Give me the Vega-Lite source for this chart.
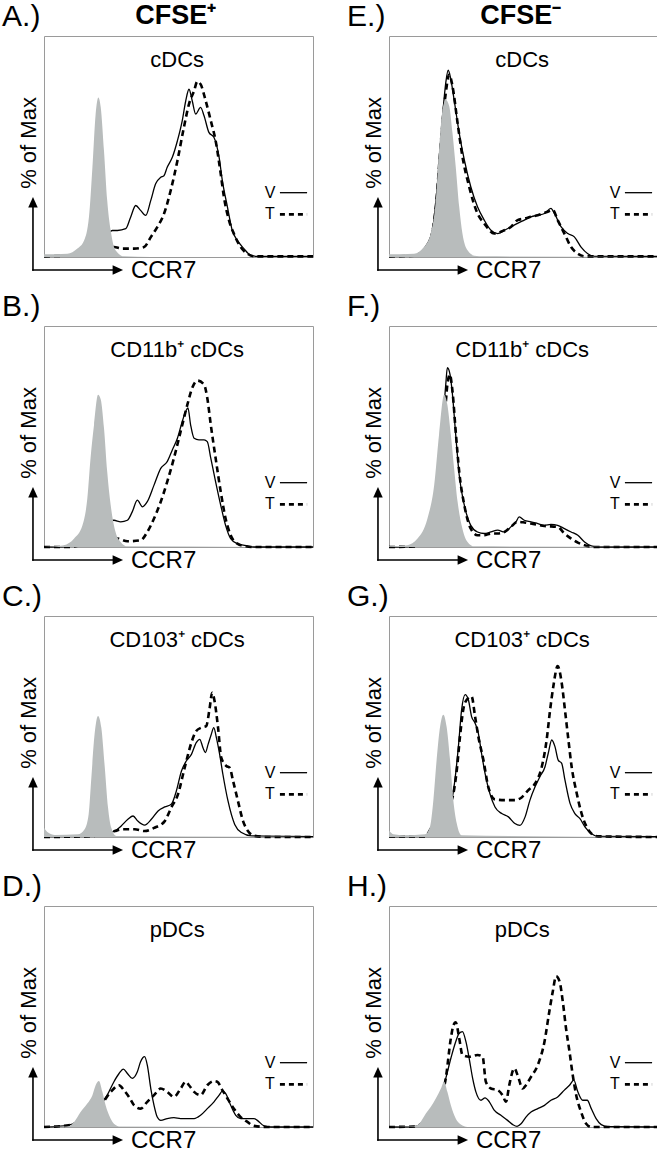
{
  "$schema": "https://vega.github.io/schema/vega-lite/v6.json",
  "background": "white",
  "padding": {"left": 1, "top": 0, "right": 0, "bottom": 0},
  "bounds": "flush",
  "config": {
    "font": "Liberation Sans",
    "view": {"stroke": "#9a9a9a", "strokeWidth": 1},
    "axis": {"disable": true},
    "header": {"labels": false, "title": null, "labelPadding": 0, "titlePadding": 0, "labelFontSize": 1, "labelColor": "transparent"},
    "headerFacet": {"labels": false, "title": null, "labelPadding": 0, "titlePadding": 0, "labelFontSize": 1, "labelColor": "transparent"}
  },
  "data": {"values": [
    {"panel":"A","series":"label","letter":"A.)","title":"cDCs","col":"CFSE⁺"},
    {"panel":"B","series":"label","letter":"B.)","title":"CD11b⁺ cDCs","col":""},
    {"panel":"C","series":"label","letter":"C.)","title":"CD103⁺ cDCs","col":""},
    {"panel":"D","series":"label","letter":"D.)","title":"pDCs","col":""},
    {"panel":"E","series":"label","letter":"E.)","title":"cDCs","col":"CFSE⁻"},
    {"panel":"F","series":"label","letter":"F.)","title":"CD11b⁺ cDCs","col":""},
    {"panel":"G","series":"label","letter":"G.)","title":"CD103⁺ cDCs","col":""},
    {"panel":"H","series":"label","letter":"H.)","title":"pDCs","col":""},

    {"panel":"A","series":"iso","x":0,"y":1.2},{"panel":"A","series":"iso","x":8.7,"y":1.5},{"panel":"A","series":"iso","x":12.4,"y":3.8},{"panel":"A","series":"iso","x":14.9,"y":7.5},{"panel":"A","series":"iso","x":16.7,"y":18},{"panel":"A","series":"iso","x":18,"y":40.6},{"panel":"A","series":"iso","x":19.2,"y":64.7},{"panel":"A","series":"iso","x":20.2,"y":72.2},{"panel":"A","series":"iso","x":21.1,"y":67.7},{"panel":"A","series":"iso","x":22.3,"y":48.1},{"panel":"A","series":"iso","x":23.5,"y":25.6},{"panel":"A","series":"iso","x":24.8,"y":12},{"panel":"A","series":"iso","x":26.6,"y":3},{"panel":"A","series":"iso","x":29.7,"y":0.3},{"panel":"A","series":"iso","x":39.7,"y":0},{"panel":"A","series":"iso","x":100,"y":0},

    {"panel":"A","series":"V","x":0,"y":0.3},{"panel":"A","series":"V","x":14.9,"y":1.5},{"panel":"A","series":"V","x":21.1,"y":6},{"panel":"A","series":"V","x":25.4,"y":12},{"panel":"A","series":"V","x":27.3,"y":12},{"panel":"A","series":"V","x":30.4,"y":12.8},{"panel":"A","series":"V","x":32.2,"y":18},{"panel":"A","series":"V","x":34.1,"y":23.3},{"panel":"A","series":"V","x":35.9,"y":21.1},{"panel":"A","series":"V","x":37.8,"y":18.8},{"panel":"A","series":"V","x":39.7,"y":25.6},{"panel":"A","series":"V","x":41.5,"y":33.1},{"panel":"A","series":"V","x":43.4,"y":36.1},{"panel":"A","series":"V","x":44.6,"y":36.8},{"panel":"A","series":"V","x":45.8,"y":40.6},{"panel":"A","series":"V","x":47.7,"y":45.1},{"panel":"A","series":"V","x":49.6,"y":52.6},{"panel":"A","series":"V","x":51.4,"y":61.7},{"panel":"A","series":"V","x":52.7,"y":70.7},{"panel":"A","series":"V","x":53.9,"y":75.9},{"panel":"A","series":"V","x":55.1,"y":70.7},{"panel":"A","series":"V","x":56.4,"y":64.7},{"panel":"A","series":"V","x":58.2,"y":67.7},{"panel":"A","series":"V","x":59.5,"y":63.9},{"panel":"A","series":"V","x":61.3,"y":56.4},{"panel":"A","series":"V","x":63.2,"y":54.1},{"panel":"A","series":"V","x":65.1,"y":45.1},{"panel":"A","series":"V","x":66.3,"y":34.6},{"panel":"A","series":"V","x":68.2,"y":22.6},{"panel":"A","series":"V","x":70,"y":12},{"panel":"A","series":"V","x":71.9,"y":7.5},{"panel":"A","series":"V","x":74.3,"y":3.8},{"panel":"A","series":"V","x":76.8,"y":0.8},{"panel":"A","series":"V","x":79.3,"y":0.3},{"panel":"A","series":"V","x":100,"y":0.3},

    {"panel":"A","series":"T","x":0,"y":0.3},{"panel":"A","series":"T","x":14.9,"y":1.2},{"panel":"A","series":"T","x":21.1,"y":3},{"panel":"A","series":"T","x":26,"y":4.5},{"panel":"A","series":"T","x":29.1,"y":3.8},{"panel":"A","series":"T","x":33.5,"y":3.8},{"panel":"A","series":"T","x":37.2,"y":4.5},{"panel":"A","series":"T","x":39.7,"y":9},{"panel":"A","series":"T","x":42.1,"y":13.5},{"panel":"A","series":"T","x":44.6,"y":19.5},{"panel":"A","series":"T","x":47.1,"y":30.1},{"panel":"A","series":"T","x":49.6,"y":43.6},{"panel":"A","series":"T","x":52,"y":58.6},{"panel":"A","series":"T","x":53.9,"y":69.2},{"panel":"A","series":"T","x":55.8,"y":75.2},{"panel":"A","series":"T","x":57,"y":79.4},{"panel":"A","series":"T","x":58.2,"y":78.2},{"panel":"A","series":"T","x":60.1,"y":70.7},{"panel":"A","series":"T","x":62,"y":61.7},{"panel":"A","series":"T","x":63.8,"y":52.6},{"panel":"A","series":"T","x":65.7,"y":37.6},{"panel":"A","series":"T","x":66.9,"y":27.1},{"panel":"A","series":"T","x":68.8,"y":16.5},{"panel":"A","series":"T","x":70.6,"y":10.5},{"panel":"A","series":"T","x":73.1,"y":4.5},{"panel":"A","series":"T","x":75.6,"y":1.5},{"panel":"A","series":"T","x":78.1,"y":0.3},{"panel":"A","series":"T","x":100,"y":0.3},

    {"panel":"E","series":"iso","x":0,"y":1.2},{"panel":"E","series":"iso","x":9.3,"y":1.5},{"panel":"E","series":"iso","x":13,"y":4.5},{"panel":"E","series":"iso","x":15.5,"y":10.6},{"panel":"E","series":"iso","x":17.4,"y":25.8},{"panel":"E","series":"iso","x":18.6,"y":48.5},{"panel":"E","series":"iso","x":19.9,"y":66.7},{"panel":"E","series":"iso","x":21.1,"y":71.2},{"panel":"E","series":"iso","x":22.4,"y":68.2},{"panel":"E","series":"iso","x":23.6,"y":56.1},{"panel":"E","series":"iso","x":24.8,"y":40.9},{"panel":"E","series":"iso","x":26.1,"y":22.7},{"panel":"E","series":"iso","x":27.3,"y":10.6},{"panel":"E","series":"iso","x":29.2,"y":3},{"panel":"E","series":"iso","x":31.7,"y":0.6},{"panel":"E","series":"iso","x":35.4,"y":0.3},{"panel":"E","series":"iso","x":100,"y":0},

    {"panel":"E","series":"V","x":0,"y":0.3},{"panel":"E","series":"V","x":9.3,"y":0.8},{"panel":"E","series":"V","x":14.3,"y":6.1},{"panel":"E","series":"V","x":16.1,"y":12},{"panel":"E","series":"V","x":17.6,"y":27},{"panel":"E","series":"V","x":18.8,"y":46},{"panel":"E","series":"V","x":20,"y":65},{"panel":"E","series":"V","x":21.1,"y":78.8},{"panel":"E","series":"V","x":22,"y":84.5},{"panel":"E","series":"V","x":23,"y":80.3},{"panel":"E","series":"V","x":24.2,"y":71.2},{"panel":"E","series":"V","x":26.1,"y":56.1},{"panel":"E","series":"V","x":28,"y":43.9},{"panel":"E","series":"V","x":30.4,"y":31.8},{"panel":"E","series":"V","x":32.9,"y":22.7},{"panel":"E","series":"V","x":35.4,"y":16.7},{"panel":"E","series":"V","x":37.9,"y":12.1},{"panel":"E","series":"V","x":40.4,"y":10.6},{"panel":"E","series":"V","x":42.9,"y":12.1},{"panel":"E","series":"V","x":45.3,"y":13.6},{"panel":"E","series":"V","x":47.8,"y":15.2},{"panel":"E","series":"V","x":50.3,"y":16.7},{"panel":"E","series":"V","x":52.8,"y":18.2},{"panel":"E","series":"V","x":55.3,"y":18.9},{"panel":"E","series":"V","x":57.8,"y":19.7},{"panel":"E","series":"V","x":60.2,"y":22},{"panel":"E","series":"V","x":61.5,"y":19.7},{"panel":"E","series":"V","x":64,"y":13.6},{"panel":"E","series":"V","x":66.5,"y":10.6},{"panel":"E","series":"V","x":68.9,"y":9.1},{"panel":"E","series":"V","x":71.4,"y":4.5},{"panel":"E","series":"V","x":73.9,"y":1.5},{"panel":"E","series":"V","x":76.4,"y":0.3},{"panel":"E","series":"V","x":100,"y":0.3},

    {"panel":"E","series":"T","x":0,"y":0.3},{"panel":"E","series":"T","x":9.3,"y":0.6},{"panel":"E","series":"T","x":14.3,"y":5.3},{"panel":"E","series":"T","x":16.1,"y":11},{"panel":"E","series":"T","x":17.6,"y":25},{"panel":"E","series":"T","x":18.8,"y":44},{"panel":"E","series":"T","x":20,"y":62},{"panel":"E","series":"T","x":21.1,"y":74.2},{"panel":"E","series":"T","x":22.4,"y":82.6},{"panel":"E","series":"T","x":23.6,"y":77.3},{"panel":"E","series":"T","x":25.5,"y":60.6},{"panel":"E","series":"T","x":27.3,"y":45.5},{"panel":"E","series":"T","x":29.8,"y":31.8},{"panel":"E","series":"T","x":32.9,"y":19.7},{"panel":"E","series":"T","x":35.4,"y":15.2},{"panel":"E","series":"T","x":39.1,"y":10.6},{"panel":"E","series":"T","x":42.9,"y":12.1},{"panel":"E","series":"T","x":45.3,"y":13.6},{"panel":"E","series":"T","x":47.8,"y":16.7},{"panel":"E","series":"T","x":50.3,"y":17.4},{"panel":"E","series":"T","x":52.8,"y":18.2},{"panel":"E","series":"T","x":55.3,"y":18.9},{"panel":"E","series":"T","x":59,"y":20.5},{"panel":"E","series":"T","x":60.9,"y":21.2},{"panel":"E","series":"T","x":62.7,"y":16.7},{"panel":"E","series":"T","x":65.2,"y":10.6},{"panel":"E","series":"T","x":67.7,"y":4.5},{"panel":"E","series":"T","x":70.2,"y":1.5},{"panel":"E","series":"T","x":72.7,"y":0.3},{"panel":"E","series":"T","x":100,"y":0.3},

    {"panel":"B","series":"iso","x":0,"y":0},{"panel":"B","series":"iso","x":7.4,"y":0.8},{"panel":"B","series":"iso","x":11.2,"y":3.8},{"panel":"B","series":"iso","x":14.3,"y":9.8},{"panel":"B","series":"iso","x":16.1,"y":22},{"panel":"B","series":"iso","x":17.3,"y":40.2},{"panel":"B","series":"iso","x":18.6,"y":55.3},{"panel":"B","series":"iso","x":20.1,"y":68.9},{"panel":"B","series":"iso","x":21.1,"y":66.7},{"panel":"B","series":"iso","x":22.3,"y":53.8},{"panel":"B","series":"iso","x":23.5,"y":34.1},{"panel":"B","series":"iso","x":24.8,"y":18.9},{"panel":"B","series":"iso","x":26.6,"y":6.8},{"panel":"B","series":"iso","x":28.5,"y":2.3},{"panel":"B","series":"iso","x":31,"y":0.3},{"panel":"B","series":"iso","x":100,"y":0},

    {"panel":"B","series":"V","x":0,"y":0},{"panel":"B","series":"V","x":8.7,"y":0.2},{"panel":"B","series":"V","x":16.1,"y":3.8},{"panel":"B","series":"V","x":21.1,"y":9.1},{"panel":"B","series":"V","x":26,"y":12.1},{"panel":"B","series":"V","x":28.5,"y":11.4},{"panel":"B","series":"V","x":31,"y":12.1},{"panel":"B","series":"V","x":32.8,"y":15.9},{"panel":"B","series":"V","x":34.7,"y":21.2},{"panel":"B","series":"V","x":36.6,"y":18.2},{"panel":"B","series":"V","x":38.4,"y":20.5},{"panel":"B","series":"V","x":40.9,"y":28},{"panel":"B","series":"V","x":43.4,"y":35.6},{"panel":"B","series":"V","x":45.8,"y":38.6},{"panel":"B","series":"V","x":47.7,"y":43.9},{"panel":"B","series":"V","x":49.6,"y":49.2},{"panel":"B","series":"V","x":51.4,"y":56.8},{"panel":"B","series":"V","x":52.7,"y":61.4},{"panel":"B","series":"V","x":53.5,"y":62.9},{"panel":"B","series":"V","x":54.5,"y":55.3},{"panel":"B","series":"V","x":55.8,"y":49.2},{"panel":"B","series":"V","x":57.6,"y":48.5},{"panel":"B","series":"V","x":59.5,"y":48.5},{"panel":"B","series":"V","x":60.7,"y":47.7},{"panel":"B","series":"V","x":62,"y":40.2},{"panel":"B","series":"V","x":63.8,"y":29.5},{"panel":"B","series":"V","x":65.7,"y":18.9},{"panel":"B","series":"V","x":67.5,"y":9.8},{"panel":"B","series":"V","x":69.4,"y":3.8},{"panel":"B","series":"V","x":71.9,"y":1.5},{"panel":"B","series":"V","x":75.6,"y":0.5},{"panel":"B","series":"V","x":78.1,"y":0},{"panel":"B","series":"V","x":100,"y":0},

    {"panel":"B","series":"T","x":0,"y":0},{"panel":"B","series":"T","x":8.7,"y":0},{"panel":"B","series":"T","x":16.1,"y":1.5},{"panel":"B","series":"T","x":23.5,"y":3},{"panel":"B","series":"T","x":27.3,"y":3.8},{"panel":"B","series":"T","x":31,"y":2.6},{"panel":"B","series":"T","x":35.9,"y":3},{"panel":"B","series":"T","x":38.4,"y":6.8},{"panel":"B","series":"T","x":40.9,"y":12.9},{"panel":"B","series":"T","x":43.4,"y":20.5},{"panel":"B","series":"T","x":45.8,"y":29.5},{"panel":"B","series":"T","x":48.3,"y":40.2},{"panel":"B","series":"T","x":50.8,"y":52.3},{"panel":"B","series":"T","x":53.3,"y":64.4},{"panel":"B","series":"T","x":55.1,"y":72},{"panel":"B","series":"T","x":57,"y":75.3},{"panel":"B","series":"T","x":59.5,"y":73.5},{"panel":"B","series":"T","x":60.7,"y":67.4},{"panel":"B","series":"T","x":62,"y":55.3},{"panel":"B","series":"T","x":63.8,"y":40.2},{"panel":"B","series":"T","x":65.7,"y":25},{"panel":"B","series":"T","x":67.5,"y":12.9},{"panel":"B","series":"T","x":69.4,"y":5.3},{"panel":"B","series":"T","x":71.9,"y":1.5},{"panel":"B","series":"T","x":74.3,"y":0.5},{"panel":"B","series":"T","x":78.1,"y":0},{"panel":"B","series":"T","x":100,"y":0},

    {"panel":"F","series":"iso","x":0,"y":0.3},{"panel":"F","series":"iso","x":6.8,"y":0.8},{"panel":"F","series":"iso","x":10.6,"y":3.8},{"panel":"F","series":"iso","x":14.3,"y":12.9},{"panel":"F","series":"iso","x":16.8,"y":28},{"panel":"F","series":"iso","x":18.6,"y":50.8},{"panel":"F","series":"iso","x":20.5,"y":68.9},{"panel":"F","series":"iso","x":21.7,"y":64.4},{"panel":"F","series":"iso","x":23,"y":50.8},{"panel":"F","series":"iso","x":24.2,"y":35.6},{"panel":"F","series":"iso","x":25.5,"y":20.5},{"panel":"F","series":"iso","x":27.3,"y":8.3},{"panel":"F","series":"iso","x":29.2,"y":2.3},{"panel":"F","series":"iso","x":31.7,"y":0.3},{"panel":"F","series":"iso","x":100,"y":0},

    {"panel":"F","series":"V","x":0,"y":0},{"panel":"F","series":"V","x":9.3,"y":0.3},{"panel":"F","series":"V","x":15.5,"y":6.8},{"panel":"F","series":"V","x":18,"y":25},{"panel":"F","series":"V","x":19.9,"y":53.8},{"panel":"F","series":"V","x":21.1,"y":73.5},{"panel":"F","series":"V","x":21.7,"y":81.1},{"panel":"F","series":"V","x":22.7,"y":78},{"panel":"F","series":"V","x":23.6,"y":68.9},{"panel":"F","series":"V","x":24.8,"y":50.8},{"panel":"F","series":"V","x":26.1,"y":32.6},{"panel":"F","series":"V","x":28,"y":18.9},{"panel":"F","series":"V","x":30.4,"y":9.8},{"panel":"F","series":"V","x":32.9,"y":6.8},{"panel":"F","series":"V","x":35.4,"y":6.1},{"panel":"F","series":"V","x":37.9,"y":6.8},{"panel":"F","series":"V","x":40.4,"y":7.6},{"panel":"F","series":"V","x":42.9,"y":6.8},{"panel":"F","series":"V","x":45.3,"y":9.1},{"panel":"F","series":"V","x":47.2,"y":11.4},{"panel":"F","series":"V","x":48.4,"y":13.6},{"panel":"F","series":"V","x":50.3,"y":12.1},{"panel":"F","series":"V","x":52.8,"y":11.4},{"panel":"F","series":"V","x":55.3,"y":10.6},{"panel":"F","series":"V","x":57.8,"y":9.8},{"panel":"F","series":"V","x":60.2,"y":10.2},{"panel":"F","series":"V","x":62.7,"y":9.8},{"panel":"F","series":"V","x":65.2,"y":8.3},{"panel":"F","series":"V","x":67.7,"y":6.8},{"panel":"F","series":"V","x":70.2,"y":5.3},{"panel":"F","series":"V","x":72.7,"y":2.3},{"panel":"F","series":"V","x":75.2,"y":0.5},{"panel":"F","series":"V","x":77.6,"y":0},{"panel":"F","series":"V","x":100,"y":0},

    {"panel":"F","series":"T","x":0,"y":0},{"panel":"F","series":"T","x":9.3,"y":0.2},{"panel":"F","series":"T","x":15.5,"y":6.1},{"panel":"F","series":"T","x":18,"y":23.5},{"panel":"F","series":"T","x":20.5,"y":55.3},{"panel":"F","series":"T","x":21.7,"y":73.5},{"panel":"F","series":"T","x":22.6,"y":78},{"panel":"F","series":"T","x":23.6,"y":70.5},{"panel":"F","series":"T","x":24.8,"y":52.3},{"panel":"F","series":"T","x":26.1,"y":34.1},{"panel":"F","series":"T","x":28,"y":18.9},{"panel":"F","series":"T","x":30.4,"y":8.3},{"panel":"F","series":"T","x":32.9,"y":5.3},{"panel":"F","series":"T","x":35.4,"y":5.3},{"panel":"F","series":"T","x":37.9,"y":6.1},{"panel":"F","series":"T","x":40.4,"y":6.1},{"panel":"F","series":"T","x":42.9,"y":6.8},{"panel":"F","series":"T","x":45.3,"y":9.1},{"panel":"F","series":"T","x":47.8,"y":11.4},{"panel":"F","series":"T","x":50.3,"y":11.1},{"panel":"F","series":"T","x":52.8,"y":10.6},{"panel":"F","series":"T","x":57.8,"y":9.5},{"panel":"F","series":"T","x":62.7,"y":9.1},{"panel":"F","series":"T","x":65.2,"y":6.1},{"panel":"F","series":"T","x":67.7,"y":3.8},{"panel":"F","series":"T","x":70.2,"y":2},{"panel":"F","series":"T","x":72.7,"y":0.8},{"panel":"F","series":"T","x":76.4,"y":0},{"panel":"F","series":"T","x":100,"y":0},

    {"panel":"C","series":"iso","x":0,"y":4.2},{"panel":"C","series":"iso","x":1.5,"y":2},{"panel":"C","series":"iso","x":4,"y":0.9},{"panel":"C","series":"iso","x":12.6,"y":1.2},{"panel":"C","series":"iso","x":15.1,"y":3.5},{"panel":"C","series":"iso","x":16.6,"y":10.3},{"panel":"C","series":"iso","x":17.6,"y":26.8},{"panel":"C","series":"iso","x":18.8,"y":46.5},{"panel":"C","series":"iso","x":20.1,"y":54.8},{"panel":"C","series":"iso","x":21.3,"y":49.5},{"panel":"C","series":"iso","x":22.6,"y":31.4},{"panel":"C","series":"iso","x":23.8,"y":13.3},{"panel":"C","series":"iso","x":25,"y":4.2},{"panel":"C","series":"iso","x":26.9,"y":0.5},{"panel":"C","series":"iso","x":100,"y":0},

    {"panel":"C","series":"V","x":0,"y":0.2},{"panel":"C","series":"V","x":15.1,"y":0.5},{"panel":"C","series":"V","x":21.3,"y":1.2},{"panel":"C","series":"V","x":26.3,"y":2.7},{"panel":"C","series":"V","x":28.7,"y":5},{"panel":"C","series":"V","x":31.2,"y":8},{"panel":"C","series":"V","x":33.1,"y":9.5},{"panel":"C","series":"V","x":34.9,"y":7.2},{"panel":"C","series":"V","x":37.4,"y":5.4},{"panel":"C","series":"V","x":39.9,"y":8},{"panel":"C","series":"V","x":42.4,"y":11.8},{"panel":"C","series":"V","x":44.9,"y":13.6},{"panel":"C","series":"V","x":47.3,"y":14.8},{"panel":"C","series":"V","x":49.2,"y":20.8},{"panel":"C","series":"V","x":51.1,"y":29.9},{"panel":"C","series":"V","x":52.9,"y":34.4},{"panel":"C","series":"V","x":54.8,"y":37.4},{"panel":"C","series":"V","x":56.6,"y":42.7},{"panel":"C","series":"V","x":57.9,"y":44.2},{"panel":"C","series":"V","x":59.1,"y":40.4},{"panel":"C","series":"V","x":60,"y":38.2},{"panel":"C","series":"V","x":61,"y":41.9},{"panel":"C","series":"V","x":62.2,"y":46.5},{"panel":"C","series":"V","x":63.1,"y":49.5},{"panel":"C","series":"V","x":64.1,"y":44.9},{"panel":"C","series":"V","x":65.3,"y":37.4},{"panel":"C","series":"V","x":66.5,"y":28.4},{"panel":"C","series":"V","x":68.4,"y":16.3},{"panel":"C","series":"V","x":70.9,"y":5.7},{"panel":"C","series":"V","x":73.4,"y":2},{"panel":"C","series":"V","x":77.1,"y":0.5},{"panel":"C","series":"V","x":100,"y":0.2},

    {"panel":"C","series":"T","x":0,"y":0},{"panel":"C","series":"T","x":15.1,"y":0.3},{"panel":"C","series":"T","x":21.3,"y":0.9},{"panel":"C","series":"T","x":26.3,"y":2.7},{"panel":"C","series":"T","x":29.4,"y":3.5},{"panel":"C","series":"T","x":33.7,"y":3.5},{"panel":"C","series":"T","x":37.4,"y":2.7},{"panel":"C","series":"T","x":41.1,"y":4.2},{"panel":"C","series":"T","x":44.9,"y":7.2},{"panel":"C","series":"T","x":47.3,"y":13.3},{"panel":"C","series":"T","x":49.8,"y":19.3},{"panel":"C","series":"T","x":52.3,"y":31.4},{"panel":"C","series":"T","x":54.8,"y":42.7},{"panel":"C","series":"T","x":56.6,"y":48},{"panel":"C","series":"T","x":58.5,"y":49.5},{"panel":"C","series":"T","x":60.3,"y":50.2},{"panel":"C","series":"T","x":61.6,"y":58.5},{"panel":"C","series":"T","x":62.5,"y":65.3},{"panel":"C","series":"T","x":63.4,"y":61.5},{"panel":"C","series":"T","x":64.7,"y":49.5},{"panel":"C","series":"T","x":65.9,"y":35.9},{"panel":"C","series":"T","x":67.8,"y":32.1},{"panel":"C","series":"T","x":69,"y":31.4},{"panel":"C","series":"T","x":70.3,"y":25.3},{"panel":"C","series":"T","x":72.1,"y":16.3},{"panel":"C","series":"T","x":74,"y":7.2},{"panel":"C","series":"T","x":75.8,"y":2.7},{"panel":"C","series":"T","x":78.3,"y":0.5},{"panel":"C","series":"T","x":83.3,"y":0},{"panel":"C","series":"T","x":100,"y":0},

    {"panel":"G","series":"iso","x":0,"y":3},{"panel":"G","series":"iso","x":1.6,"y":1.2},{"panel":"G","series":"iso","x":5.9,"y":0.8},{"panel":"G","series":"iso","x":13.4,"y":1.2},{"panel":"G","series":"iso","x":15.2,"y":4.5},{"panel":"G","series":"iso","x":16.5,"y":16.7},{"panel":"G","series":"iso","x":17.7,"y":34.8},{"panel":"G","series":"iso","x":19,"y":50},{"panel":"G","series":"iso","x":20.2,"y":55.3},{"panel":"G","series":"iso","x":21.4,"y":50},{"panel":"G","series":"iso","x":22.7,"y":34.8},{"panel":"G","series":"iso","x":23.9,"y":16.7},{"panel":"G","series":"iso","x":25.2,"y":6.1},{"panel":"G","series":"iso","x":27,"y":0.8},{"panel":"G","series":"iso","x":100,"y":0},

    {"panel":"G","series":"V","x":0,"y":0.2},{"panel":"G","series":"V","x":13.4,"y":0.3},{"panel":"G","series":"V","x":15.9,"y":4.5},{"panel":"G","series":"V","x":19.6,"y":10.6},{"panel":"G","series":"V","x":23.3,"y":16.7},{"panel":"G","series":"V","x":24.5,"y":25.8},{"panel":"G","series":"V","x":25.8,"y":40.9},{"panel":"G","series":"V","x":27,"y":57.6},{"panel":"G","series":"V","x":28.3,"y":64.4},{"panel":"G","series":"V","x":29.5,"y":62.1},{"panel":"G","series":"V","x":30.7,"y":54.5},{"panel":"G","series":"V","x":32,"y":51.5},{"panel":"G","series":"V","x":33.2,"y":47},{"panel":"G","series":"V","x":34.4,"y":37.9},{"panel":"G","series":"V","x":35.7,"y":28.8},{"panel":"G","series":"V","x":37.5,"y":19.7},{"panel":"G","series":"V","x":39.4,"y":13.6},{"panel":"G","series":"V","x":41.9,"y":10.6},{"panel":"G","series":"V","x":44.4,"y":9.1},{"panel":"G","series":"V","x":46.8,"y":6.1},{"panel":"G","series":"V","x":48.7,"y":5.3},{"panel":"G","series":"V","x":50.6,"y":9.1},{"panel":"G","series":"V","x":52.4,"y":16.7},{"panel":"G","series":"V","x":54.3,"y":22.7},{"panel":"G","series":"V","x":56.1,"y":27.3},{"panel":"G","series":"V","x":58,"y":31.8},{"panel":"G","series":"V","x":59.2,"y":37.9},{"panel":"G","series":"V","x":60.5,"y":43.9},{"panel":"G","series":"V","x":61.7,"y":40.9},{"panel":"G","series":"V","x":62.9,"y":34.8},{"panel":"G","series":"V","x":64.2,"y":33.3},{"panel":"G","series":"V","x":65.4,"y":25.8},{"panel":"G","series":"V","x":67.3,"y":15.2},{"panel":"G","series":"V","x":69.1,"y":10.6},{"panel":"G","series":"V","x":71,"y":8.3},{"panel":"G","series":"V","x":72.9,"y":4.5},{"panel":"G","series":"V","x":75.3,"y":1.5},{"panel":"G","series":"V","x":77.8,"y":0.3},{"panel":"G","series":"V","x":100,"y":0.2},

    {"panel":"G","series":"T","x":0,"y":0.2},{"panel":"G","series":"T","x":13.4,"y":0.3},{"panel":"G","series":"T","x":15.9,"y":4.5},{"panel":"G","series":"T","x":19.6,"y":10.6},{"panel":"G","series":"T","x":23.3,"y":16.7},{"panel":"G","series":"T","x":25.2,"y":30.3},{"panel":"G","series":"T","x":26.4,"y":45.5},{"panel":"G","series":"T","x":27.6,"y":57.6},{"panel":"G","series":"T","x":28.9,"y":62.1},{"panel":"G","series":"T","x":30.7,"y":63.6},{"panel":"G","series":"T","x":32,"y":54.5},{"panel":"G","series":"T","x":33.2,"y":45.5},{"panel":"G","series":"T","x":35.1,"y":34.8},{"panel":"G","series":"T","x":36.9,"y":22.7},{"panel":"G","series":"T","x":39.4,"y":17},{"panel":"G","series":"T","x":43.1,"y":16.7},{"panel":"G","series":"T","x":46.8,"y":16.7},{"panel":"G","series":"T","x":49.3,"y":17.9},{"panel":"G","series":"T","x":51.8,"y":21.2},{"panel":"G","series":"T","x":54.3,"y":24.2},{"panel":"G","series":"T","x":56.8,"y":31.8},{"panel":"G","series":"T","x":58.6,"y":43.9},{"panel":"G","series":"T","x":59.9,"y":57.6},{"panel":"G","series":"T","x":61.1,"y":68.2},{"panel":"G","series":"T","x":62.7,"y":77.3},{"panel":"G","series":"T","x":64.2,"y":69.7},{"panel":"G","series":"T","x":65.4,"y":57.6},{"panel":"G","series":"T","x":66.7,"y":43.9},{"panel":"G","series":"T","x":67.9,"y":31.8},{"panel":"G","series":"T","x":69.8,"y":19.7},{"panel":"G","series":"T","x":71.6,"y":10.6},{"panel":"G","series":"T","x":73.5,"y":4.5},{"panel":"G","series":"T","x":75.3,"y":1.5},{"panel":"G","series":"T","x":77.8,"y":0.3},{"panel":"G","series":"T","x":100,"y":0},

    {"panel":"D","series":"iso","x":0,"y":0},{"panel":"D","series":"iso","x":8.7,"y":0.2},{"panel":"D","series":"iso","x":11.2,"y":2.3},{"panel":"D","series":"iso","x":13.6,"y":6.8},{"panel":"D","series":"iso","x":16.1,"y":10.6},{"panel":"D","series":"iso","x":18,"y":14.4},{"panel":"D","series":"iso","x":19.2,"y":18.9},{"panel":"D","series":"iso","x":20.4,"y":20.8},{"panel":"D","series":"iso","x":21.7,"y":15.9},{"panel":"D","series":"iso","x":22.9,"y":9.8},{"panel":"D","series":"iso","x":24.2,"y":5.3},{"panel":"D","series":"iso","x":26,"y":1.5},{"panel":"D","series":"iso","x":28.5,"y":0.2},{"panel":"D","series":"iso","x":100,"y":0},

    {"panel":"D","series":"V","x":0,"y":0},{"panel":"D","series":"V","x":7.4,"y":0.5},{"panel":"D","series":"V","x":11.2,"y":1.5},{"panel":"D","series":"V","x":16.1,"y":5.3},{"panel":"D","series":"V","x":19.8,"y":8.3},{"panel":"D","series":"V","x":23.5,"y":14.4},{"panel":"D","series":"V","x":26,"y":20.5},{"panel":"D","series":"V","x":27.9,"y":24.2},{"panel":"D","series":"V","x":29.5,"y":26.2},{"panel":"D","series":"V","x":31,"y":24.2},{"panel":"D","series":"V","x":32.8,"y":22},{"panel":"D","series":"V","x":34.7,"y":25},{"panel":"D","series":"V","x":35.9,"y":29.5},{"panel":"D","series":"V","x":37.4,"y":31.8},{"panel":"D","series":"V","x":38.4,"y":28},{"panel":"D","series":"V","x":39.7,"y":17.4},{"panel":"D","series":"V","x":40.9,"y":9.8},{"panel":"D","series":"V","x":42.1,"y":4.5},{"panel":"D","series":"V","x":43.4,"y":3},{"panel":"D","series":"V","x":45.8,"y":3.8},{"panel":"D","series":"V","x":48.3,"y":4.2},{"panel":"D","series":"V","x":50.8,"y":3.8},{"panel":"D","series":"V","x":53.3,"y":3.8},{"panel":"D","series":"V","x":55.8,"y":3.8},{"panel":"D","series":"V","x":58.2,"y":5.3},{"panel":"D","series":"V","x":60.7,"y":8.3},{"panel":"D","series":"V","x":63.2,"y":11.4},{"panel":"D","series":"V","x":65.1,"y":14.4},{"panel":"D","series":"V","x":66.3,"y":16.2},{"panel":"D","series":"V","x":67.5,"y":15.2},{"panel":"D","series":"V","x":69.4,"y":9.8},{"panel":"D","series":"V","x":71.3,"y":5.3},{"panel":"D","series":"V","x":73.1,"y":3.8},{"panel":"D","series":"V","x":75.6,"y":3.8},{"panel":"D","series":"V","x":78.1,"y":3.8},{"panel":"D","series":"V","x":79.3,"y":3},{"panel":"D","series":"V","x":81.8,"y":0.5},{"panel":"D","series":"V","x":84.3,"y":0},{"panel":"D","series":"V","x":100,"y":0},

    {"panel":"D","series":"T","x":0,"y":0},{"panel":"D","series":"T","x":7.4,"y":0.5},{"panel":"D","series":"T","x":11.2,"y":1.5},{"panel":"D","series":"T","x":16.1,"y":5.3},{"panel":"D","series":"T","x":21.1,"y":9.8},{"panel":"D","series":"T","x":24.8,"y":15.9},{"panel":"D","series":"T","x":27.9,"y":18.9},{"panel":"D","series":"T","x":29.7,"y":16.7},{"panel":"D","series":"T","x":31.6,"y":13.6},{"panel":"D","series":"T","x":33.5,"y":9.8},{"panel":"D","series":"T","x":35.9,"y":8.3},{"panel":"D","series":"T","x":38.4,"y":11.4},{"panel":"D","series":"T","x":40.9,"y":14.4},{"panel":"D","series":"T","x":43.4,"y":17.4},{"panel":"D","series":"T","x":45.8,"y":15.9},{"panel":"D","series":"T","x":48.3,"y":13.6},{"panel":"D","series":"T","x":50.8,"y":17.4},{"panel":"D","series":"T","x":52.7,"y":20.5},{"panel":"D","series":"T","x":53.9,"y":18.9},{"panel":"D","series":"T","x":55.8,"y":15.9},{"panel":"D","series":"T","x":58.2,"y":14.4},{"panel":"D","series":"T","x":60.7,"y":18.9},{"panel":"D","series":"T","x":63.2,"y":20.8},{"panel":"D","series":"T","x":64.4,"y":20.5},{"panel":"D","series":"T","x":66.3,"y":16.7},{"panel":"D","series":"T","x":68.2,"y":12.9},{"panel":"D","series":"T","x":70.6,"y":8.3},{"panel":"D","series":"T","x":73.1,"y":4.5},{"panel":"D","series":"T","x":75.6,"y":2.3},{"panel":"D","series":"T","x":78.1,"y":0.5},{"panel":"D","series":"T","x":83,"y":0},{"panel":"D","series":"T","x":100,"y":0},

    {"panel":"H","series":"iso","x":0,"y":0},{"panel":"H","series":"iso","x":8.7,"y":0.2},{"panel":"H","series":"iso","x":11.2,"y":1.5},{"panel":"H","series":"iso","x":13.7,"y":6.1},{"panel":"H","series":"iso","x":15.5,"y":9.1},{"panel":"H","series":"iso","x":17.4,"y":12.9},{"panel":"H","series":"iso","x":19.3,"y":17.4},{"panel":"H","series":"iso","x":20.5,"y":20.5},{"panel":"H","series":"iso","x":21.7,"y":15.9},{"panel":"H","series":"iso","x":23,"y":9.8},{"panel":"H","series":"iso","x":24.8,"y":3.8},{"panel":"H","series":"iso","x":26.7,"y":1.1},{"panel":"H","series":"iso","x":29.2,"y":0},{"panel":"H","series":"iso","x":100,"y":0},

    {"panel":"H","series":"V","x":0,"y":0},{"panel":"H","series":"V","x":9.3,"y":0.2},{"panel":"H","series":"V","x":14.3,"y":3.8},{"panel":"H","series":"V","x":18,"y":9.8},{"panel":"H","series":"V","x":21.1,"y":22},{"panel":"H","series":"V","x":23,"y":31.1},{"panel":"H","series":"V","x":24.8,"y":38.6},{"panel":"H","series":"V","x":26.1,"y":42.4},{"panel":"H","series":"V","x":27.3,"y":43.2},{"panel":"H","series":"V","x":28.6,"y":38.6},{"panel":"H","series":"V","x":29.8,"y":31.1},{"panel":"H","series":"V","x":31.1,"y":22},{"panel":"H","series":"V","x":32.3,"y":15.9},{"panel":"H","series":"V","x":34.2,"y":12.1},{"panel":"H","series":"V","x":35.7,"y":13.2},{"panel":"H","series":"V","x":37.3,"y":11.4},{"panel":"H","series":"V","x":39.1,"y":7.6},{"panel":"H","series":"V","x":41.6,"y":5.3},{"panel":"H","series":"V","x":44.1,"y":3},{"panel":"H","series":"V","x":46,"y":1.1},{"panel":"H","series":"V","x":47.6,"y":0.3},{"panel":"H","series":"V","x":49.1,"y":1.5},{"panel":"H","series":"V","x":50.9,"y":4.5},{"panel":"H","series":"V","x":52.8,"y":6.8},{"panel":"H","series":"V","x":55.3,"y":8.3},{"panel":"H","series":"V","x":57.8,"y":9.8},{"panel":"H","series":"V","x":60.2,"y":12.1},{"panel":"H","series":"V","x":62.7,"y":13.6},{"panel":"H","series":"V","x":65.2,"y":16.7},{"panel":"H","series":"V","x":67.1,"y":18.9},{"panel":"H","series":"V","x":68.7,"y":21.2},{"panel":"H","series":"V","x":70.2,"y":15.9},{"panel":"H","series":"V","x":72,"y":12.1},{"panel":"H","series":"V","x":73.7,"y":12.1},{"panel":"H","series":"V","x":75.2,"y":8.3},{"panel":"H","series":"V","x":77,"y":3.8},{"panel":"H","series":"V","x":78.9,"y":1.1},{"panel":"H","series":"V","x":81.4,"y":0.2},{"panel":"H","series":"V","x":100,"y":0},

    {"panel":"H","series":"T","x":0,"y":0},{"panel":"H","series":"T","x":9.3,"y":0.2},{"panel":"H","series":"T","x":14.3,"y":3.8},{"panel":"H","series":"T","x":18,"y":9.8},{"panel":"H","series":"T","x":21.1,"y":22},{"panel":"H","series":"T","x":23,"y":40.2},{"panel":"H","series":"T","x":24,"y":46.2},{"panel":"H","series":"T","x":24.8,"y":47.4},{"panel":"H","series":"T","x":26.1,"y":40.2},{"panel":"H","series":"T","x":27.3,"y":32.6},{"panel":"H","series":"T","x":29.8,"y":31.8},{"panel":"H","series":"T","x":32.9,"y":32.6},{"panel":"H","series":"T","x":34.8,"y":31.8},{"panel":"H","series":"T","x":36,"y":20.5},{"panel":"H","series":"T","x":37.9,"y":17.4},{"panel":"H","series":"T","x":40.4,"y":16.7},{"panel":"H","series":"T","x":42.2,"y":14.4},{"panel":"H","series":"T","x":43.5,"y":11.4},{"panel":"H","series":"T","x":44.7,"y":18.9},{"panel":"H","series":"T","x":46.6,"y":26.5},{"panel":"H","series":"T","x":47.8,"y":23.5},{"panel":"H","series":"T","x":49.7,"y":17.4},{"panel":"H","series":"T","x":50.9,"y":18.9},{"panel":"H","series":"T","x":52.8,"y":22.7},{"panel":"H","series":"T","x":55.3,"y":28},{"panel":"H","series":"T","x":57.8,"y":38.6},{"panel":"H","series":"T","x":59.6,"y":52.3},{"panel":"H","series":"T","x":60.9,"y":61.4},{"panel":"H","series":"T","x":62.1,"y":68.2},{"panel":"H","series":"T","x":63.4,"y":65.9},{"panel":"H","series":"T","x":64.6,"y":56.8},{"panel":"H","series":"T","x":65.8,"y":44.7},{"panel":"H","series":"T","x":67.1,"y":34.1},{"panel":"H","series":"T","x":68.3,"y":23.5},{"panel":"H","series":"T","x":69.6,"y":14.4},{"panel":"H","series":"T","x":71.4,"y":6.8},{"panel":"H","series":"T","x":73.3,"y":1.5},{"panel":"H","series":"T","x":75.2,"y":0},{"panel":"H","series":"T","x":100,"y":0}
  ]},
  "facet": {"field": "panel", "type": "nominal", "sort": ["A","E","B","F","C","G","D","H"], "title": null, "header": {"labels": false, "title": null, "labelPadding": 0, "titlePadding": 0, "labelFontSize": 1, "labelColor": "transparent", "labelExpr": "''"}},
  "columns": 2,
  "spacing": {"row": 69, "column": 76},
  "spec": {
    "width": 269,
    "height": 221,
    "layer": [
      {
        "transform": [{"filter": "datum.series === 'V'"}],
        "mark": {"type": "line", "color": "black", "strokeWidth": 1.3, "interpolate": "monotone"},
        "encoding": {
          "x": {"field": "x", "type": "quantitative", "scale": {"domain": [0, 100], "nice": false}, "axis": null},
          "y": {"field": "y", "type": "quantitative", "scale": {"domain": [0, 100], "nice": false}, "axis": null}
        }
      },
      {
        "transform": [{"filter": "datum.series === 'T'"}],
        "mark": {"type": "line", "color": "black", "strokeWidth": 2.6, "strokeDash": [6, 4], "interpolate": "monotone"},
        "encoding": {
          "x": {"field": "x", "type": "quantitative", "axis": null},
          "y": {"field": "y", "type": "quantitative", "axis": null}
        }
      },
      {
        "transform": [{"filter": "datum.series === 'iso'"}],
        "mark": {"type": "area", "color": "#b8bcbc", "opacity": 1, "interpolate": "monotone"},
        "encoding": {
          "x": {"field": "x", "type": "quantitative", "axis": null},
          "y": {"field": "y", "type": "quantitative", "axis": null}
        }
      },
      {
        "transform": [{"filter": "datum.series === 'label'"}],
        "layer": [
          {
            "mark": {"type": "text", "fontSize": 22, "align": "center", "baseline": "middle", "color": "black"},
            "encoding": {"x": {"datum": 49.5}, "y": {"datum": 89.1}, "text": {"field": "title"}}
          },
          {
            "mark": {"type": "text", "fontSize": 30, "align": "left", "baseline": "middle", "color": "black"},
            "encoding": {"x": {"datum": -15.6}, "y": {"datum": 108.6}, "text": {"field": "letter"}}
          },
          {
            "mark": {"type": "text", "fontSize": 27, "fontWeight": "bold", "align": "center", "baseline": "middle", "color": "black"},
            "encoding": {"x": {"datum": 49}, "y": {"datum": 109.05}, "text": {"field": "col"}}
          },
          {
            "mark": {"type": "text", "fontSize": 22, "angle": 270, "align": "center", "baseline": "middle", "color": "black"},
            "encoding": {"x": {"datum": -5.6}, "y": {"datum": 51.6}, "text": {"value": "% of Max"}}
          },
          {
            "mark": {"type": "text", "fontSize": 24, "align": "left", "baseline": "middle", "color": "black"},
            "encoding": {"x": {"datum": 32.3}, "y": {"datum": -6.3}, "text": {"value": "CCR7"}}
          },
          {
            "mark": {"type": "text", "fontSize": 16, "align": "center", "baseline": "middle", "color": "black"},
            "encoding": {"x": {"datum": 84}, "y": {"datum": 29.1}, "text": {"value": "V"}}
          },
          {
            "mark": {"type": "text", "fontSize": 16, "align": "center", "baseline": "middle", "color": "black"},
            "encoding": {"x": {"datum": 84}, "y": {"datum": 19.3}, "text": {"value": "T"}}
          },
          {
            "mark": {"type": "rule", "color": "black", "strokeWidth": 1.3},
            "encoding": {"x": {"datum": 87.7}, "x2": {"datum": 97.8}, "y": {"datum": 29.1}}
          },
          {
            "mark": {"type": "rule", "color": "black", "strokeWidth": 2.6, "strokeDash": [5, 4]},
            "encoding": {"x": {"datum": 87.7}, "x2": {"datum": 97.8}, "y": {"datum": 19.3}}
          },
          {
            "mark": {"type": "rule", "color": "black", "strokeWidth": 1.6, "strokeCap": "square"},
            "encoding": {"x": {"datum": -4.1}, "y": {"datum": -5.9}, "y2": {"datum": 24.5}}
          },
          {
            "mark": {"type": "rule", "color": "black", "strokeWidth": 1.6, "strokeCap": "square"},
            "encoding": {"x": {"datum": -4.1}, "x2": {"datum": 27.2}, "y": {"datum": -5.9}}
          },
          {
            "mark": {"type": "point", "shape": "M0,0L-0.5,1.1L0.5,1.1Z", "size": 361, "filled": true, "color": "black", "opacity": 1},
            "encoding": {"x": {"datum": -4.1}, "y": {"datum": 27.1}}
          },
          {
            "mark": {"type": "point", "shape": "M0,0L-1.1,-0.5L-1.1,0.5Z", "size": 361, "filled": true, "color": "black", "opacity": 1},
            "encoding": {"x": {"datum": 29.4}, "y": {"datum": -5.9}}
          }
        ]
      }
    ]
  }
}
